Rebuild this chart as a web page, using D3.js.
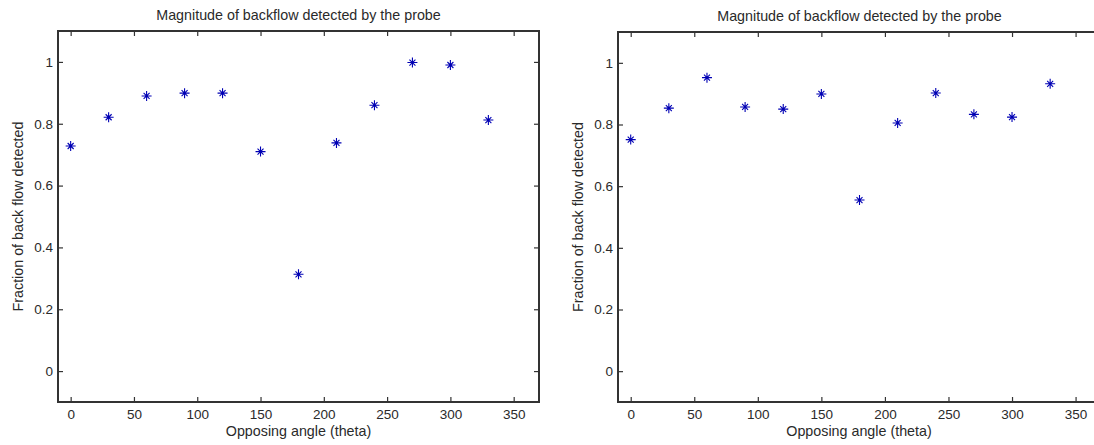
<!DOCTYPE html>
<html>
<head>
<meta charset="utf-8">
<script src="https://cdn.jsdelivr.net/npm/d3@7"></script>
<style>
  body { margin: 0; background: #fff; }
  svg { display: block; }
  text { font-family: "Liberation Sans", Arial, sans-serif; fill: #2a2a2a; }
</style>
</head>
<body>
<div id="chart"></div>
<script>
// Opposing angles (theta) shared by both panels
var angles = [0, 30, 60, 90, 120, 150, 180, 210, 240, 270, 300, 330];

// Fraction of back flow detected, left and right panels
var leftValues = [0.728, 0.821, 0.890, 0.899, 0.899, 0.710, 0.313, 0.738, 0.860, 0.998, 0.990, 0.812];
var rightValues = [0.751, 0.853, 0.952, 0.857, 0.850, 0.899, 0.555, 0.805, 0.902, 0.833, 0.824, 0.932];

var xTicks = [0, 50, 100, 150, 200, 250, 300, 350];
var yTicks = [0, 0.2, 0.4, 0.6, 0.8, 1];

var titleText = 'Magnitude of backflow detected by the probe',
    xLabelText = 'Opposing angle (theta)',
    yLabelText = 'Fraction of back flow detected';

var width = 1094, height = 445;

var svg = d3.select('#chart').append('svg')
    .attr('width', width)
    .attr('height', height);

function Panel(box, values) {
    this.box = box; // plot box in pixels
    this.values = values;

    this.x = d3.scaleLinear().domain([-10, 370]).range([box.left, box.right]);
    this.y = d3.scaleLinear().domain([-0.1, 1.1]).range([box.bottom, box.top]);

    this.tick_len = 5; // MATLAB style inward ticks
}

Panel.prototype.draw = function() {
    var box = this.box, x = this.x, y = this.y, t = this.tick_len;
    var g = svg.append('g');

    // Frame
    g.append('rect')
        .attr('x', box.left).attr('y', box.top)
        .attr('width', box.right - box.left)
        .attr('height', box.bottom - box.top)
        .attr('fill', 'none')
        .attr('stroke', '#333')
        .attr('stroke-width', 1.2)
        .attr('shape-rendering', 'crispEdges');

    // Axes with inward ticks on all sides
    g.append('g')
        .attr('transform', 'translate(0,' + box.bottom + ')')
        .call(d3.axisBottom(x).tickValues(xTicks).tickSizeInner(-t).tickSizeOuter(0).tickPadding(7));
    g.append('g')
        .attr('transform', 'translate(0,' + box.top + ')')
        .call(d3.axisTop(x).tickValues(xTicks).tickSizeInner(-t).tickSizeOuter(0).tickFormat(''));
    g.append('g')
        .attr('transform', 'translate(' + box.left + ',0)')
        .call(d3.axisLeft(y).tickValues(yTicks).tickSizeInner(-t).tickSizeOuter(0).tickPadding(5)
            .tickFormat(function(d) { return d3.format('~g')(d); }));
    g.append('g')
        .attr('transform', 'translate(' + box.right + ',0)')
        .call(d3.axisRight(y).tickValues(yTicks).tickSizeInner(-t).tickSizeOuter(0).tickFormat(''));

    g.selectAll('.domain').remove();
    g.selectAll('.tick line').attr('stroke', '#333').attr('stroke-width', 1.2);
    g.selectAll('.tick text')
        .style('font-size', '13.5px')
        .style('font-family', '"Liberation Sans", Arial, sans-serif')
        .attr('fill', '#2a2a2a');

    // Title and axis labels
    var cx = (box.left + box.right) / 2;
    g.append('text')
        .attr('x', cx).attr('y', box.top - 11)
        .attr('text-anchor', 'middle')
        .style('font-size', '14.3px')
        .text(titleText);

    g.append('text')
        .attr('x', box.xlabel_x || cx).attr('y', box.bottom + 34)
        .attr('text-anchor', 'middle')
        .style('font-size', '14.3px')
        .text(xLabelText);

    var cy = (box.top + box.bottom) / 2;
    g.append('text')
        .attr('transform', 'translate(' + box.ylabel_x + ',' + cy + ') rotate(-90)')
        .attr('text-anchor', 'middle')
        .style('font-size', '14.3px')
        .text(yLabelText);

    // Asterisk markers
    var pts = angles.map(function(a, i) { return [x(a), y(this.values[i])]; }, this);
    var r = 5, d = 3;
    g.selectAll('path.marker')
        .data(pts)
        .enter().append('path')
        .attr('class', 'marker')
        .attr('d', function(p) {
            return 'M' + (p[0] - r) + ',' + p[1] + 'H' + (p[0] + r) +
                'M' + p[0] + ',' + (p[1] - r) + 'V' + (p[1] + r) +
                'M' + (p[0] - d) + ',' + (p[1] - d) + 'L' + (p[0] + d) + ',' + (p[1] + d) +
                'M' + (p[0] - d) + ',' + (p[1] + d) + 'L' + (p[0] + d) + ',' + (p[1] - d);
        })
        .attr('stroke', '#0000b4')
        .attr('stroke-width', 1.1)
        .attr('fill', 'none');
};

(function() {
    var left = new Panel({ left: 58, right: 539, top: 31, bottom: 402, ylabel_x: 23 }, leftValues);
    left.draw();

    var right = new Panel({ left: 618, right: 1101, top: 32, bottom: 402, ylabel_x: 583, xlabel_x: 859 }, rightValues);
    right.draw();
}());
</script>
</body>
</html>
